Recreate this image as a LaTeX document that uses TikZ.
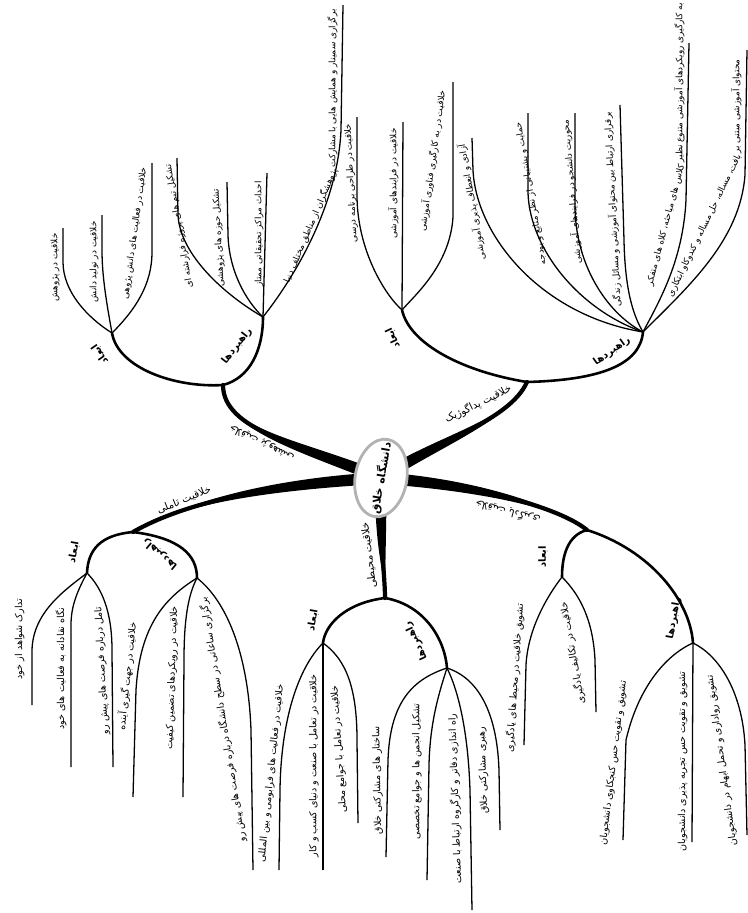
\documentclass[tikz,border=0pt]{standalone}
\usepackage{fontspec}
\usetikzlibrary{shapes.geometric,positioning,backgrounds,calc}
\newfontfamily\farsi[Script=Arabic]{DejaVu Sans}
\TeXXeTstate=1
\newcommand{\fatxt}[1]{{\farsi\beginR #1\endR}}

\begin{document}
\begin{tikzpicture}[
    x=0.03cm, y=-0.03cm,
    % --- STYLES ---
    hub/.style={
        ellipse, draw=gray!60, fill=white,
        line width=2.4pt,
        minimum width=2.35cm, minimum height=1.55cm,
        inner xsep=-12pt, inner ysep=0pt,
        font=\bfseries\fontsize{9.5}{10}\selectfont
    },
    trunk/.style={line width=3.6pt, line cap=round},
    limb/.style={line width=2.2pt, line cap=round},
    twig/.style={line width=1.1pt},
    leaf/.style={font=\fontsize{7.6}{8}\selectfont, inner sep=1pt, anchor=south east},
    lowleaf/.style={leaf, font=\fontsize{8.2}{9}\selectfont},
    sublabel/.style={font=\bfseries\fontsize{8.5}{9}\selectfont, inner sep=1pt},
    mainlabel/.style={font=\fontsize{8.8}{9}\selectfont, inner sep=1pt}
]
\useasboundingbox (0,0) rectangle (748,913);

% ===== 1. HUB & FORKS =====
\node[hub, rotate=80] (hub) at (381,478) {\fatxt{دانشگاه خلاق}};

\coordinate (resF) at (223,385);
\coordinate (resD) at (112,333);
\coordinate (resS) at (263,317);
\coordinate (pedF) at (527,382);
\coordinate (pedD) at (402,310);
\coordinate (pedS) at (643,332);
\coordinate (refF) at (133,532);
\coordinate (refD) at (87,573);
\coordinate (refS) at (197,578);
\coordinate (envF) at (385,598);
\coordinate (envD) at (323,643);
\coordinate (envS) at (447,668);
\coordinate (lrnF) at (587,530);
\coordinate (lrnD) at (562,577);
\coordinate (lrnS) at (693,643);

% leaf tips
\coordinate (resD1) at (63,228);
\coordinate (resD2) at (102,215);
\coordinate (resD3) at (152,163);
\coordinate (resS1) at (177,158);
\coordinate (resS2) at (227,182);
\coordinate (resS3) at (267,173);
\coordinate (resS4) at (343,5);
\coordinate (pedD1) at (357,117);
\coordinate (pedD2) at (403,122);
\coordinate (pedD3) at (453,82);
\coordinate (pedS1) at (472,138);
\coordinate (pedS2) at (528,113);
\coordinate (pedS3) at (575,113);
\coordinate (pedS4) at (620,105);
\coordinate (pedS5) at (689,43);
\coordinate (pedS6) at (747,50);
\coordinate (refD1) at (32,705);
\coordinate (refD2) at (71,767);
\coordinate (refD3) at (113,767);
\coordinate (refS1) at (133,797);
\coordinate (refS2) at (183,797);
\coordinate (refS3) at (253,870);
\coordinate (envD1) at (279,870);
\coordinate (envD2) at (323,870);
\coordinate (envD3) at (358,823);
\coordinate (envS1) at (386,857);
\coordinate (envS2) at (427,880);
\coordinate (envS3) at (472,910);
\coordinate (envS4) at (500,830);
\coordinate (lrnD1) at (524,745);
\coordinate (lrnD2) at (596,712);
\coordinate (lrnS1) at (623,840);
\coordinate (lrnS2) at (692,842);
\coordinate (lrnS3) at (747,835);

% ===== 2. MAIN BRANCHES =====
\begin{scope}[on background layer]
\draw[trunk] (hub.center) .. controls (300,445) and (223,430) .. (resF);
\draw[trunk] (hub.center) .. controls (440,440) and (510,420) .. (pedF);
\draw[trunk] (hub.center) .. controls (260,485) and (180,505) .. (refF);
\draw[trunk] (hub.center) .. controls (380,550) and (385,575) .. (envF);
\draw[trunk] (hub.center) .. controls (480,485) and (560,508) .. (lrnF);
% tapering, wide at the hub
\fill ($(hub.center)!5pt!90:(300,445)$) .. controls ($(300,445)!5pt!-90:(hub.center)$) and (223,430) .. (resF)
      .. controls (223,430) and ($(300,445)!5pt!90:(hub.center)$) .. ($(hub.center)!5pt!-90:(300,445)$) -- cycle;
\fill ($(hub.center)!5pt!90:(440,440)$) .. controls ($(440,440)!5pt!-90:(hub.center)$) and (510,420) .. (pedF)
      .. controls (510,420) and ($(440,440)!5pt!90:(hub.center)$) .. ($(hub.center)!5pt!-90:(440,440)$) -- cycle;
\fill ($(hub.center)!5pt!90:(260,485)$) .. controls ($(260,485)!5pt!-90:(hub.center)$) and (180,505) .. (refF)
      .. controls (180,505) and ($(260,485)!5pt!90:(hub.center)$) .. ($(hub.center)!5pt!-90:(260,485)$) -- cycle;
\fill ($(hub.center)!5pt!90:(380,550)$) .. controls ($(380,550)!5pt!-90:(hub.center)$) and (385,575) .. (envF)
      .. controls (385,575) and ($(380,550)!5pt!90:(hub.center)$) .. ($(hub.center)!5pt!-90:(380,550)$) -- cycle;
\fill ($(hub.center)!5pt!90:(480,485)$) .. controls ($(480,485)!5pt!-90:(hub.center)$) and (560,508) .. (lrnF)
      .. controls (560,508) and ($(480,485)!5pt!90:(hub.center)$) .. ($(hub.center)!5pt!-90:(480,485)$) -- cycle;
\end{scope}

\node[mainlabel, rotate=153] (lRes) at (262,443) {\fatxt{خلاقیت پژوهشی}};
\node[mainlabel, rotate=26] (lPed) at (478,404) {\fatxt{خلاقیت پداگوژیک}};
\node[mainlabel, rotate=22] (lRef) at (184,500) {\fatxt{خلاقیت تاملی}};
\node[mainlabel, rotate=97] (lEnv) at (369,555) {\fatxt{خلاقیت محیطی}};
\node[mainlabel, rotate=165] (lLrn) at (508,512) {\fatxt{خلاقیت یادگیری}};

% ===== 3. SUB BRANCHES =====
\draw[limb] (resF) .. controls (175,388) and (118,368) .. (resD);
\draw[limb] (resF) .. controls (250,378) and (263,350) .. (resS);
\draw[limb] (pedF) .. controls (465,372) and (410,345) .. (pedD);
\draw[limb] (pedF) .. controls (600,380) and (640,365) .. (pedS);
\draw[limb] (refF) .. controls (100,535) and (88,550) .. (refD);
\draw[limb] (refF) .. controls (180,538) and (197,555) .. (refS);
\draw[limb] (envF) .. controls (345,603) and (325,625) .. (envD);
\draw[limb] (envF) .. controls (425,605) and (445,640) .. (envS);
\draw[limb] (lrnF) .. controls (568,535) and (562,555) .. (lrnD);
\draw[limb] (lrnF) .. controls (650,550) and (690,600) .. (lrnS);

\node[sublabel, rotate=125] (lResD) at (100,354) {\fatxt{ابعاد}};
\node[sublabel, rotate=52] (lResS) at (237,346) {\fatxt{راهبردها}};
\node[sublabel, rotate=115] (lPedD) at (393,338) {\fatxt{ابعاد}};
\node[sublabel, rotate=35] (lPedS) at (612,351) {\fatxt{راهبردها}};
\node[sublabel, rotate=80] (lRefD) at (74,552) {\fatxt{ابعاد}};
\node[sublabel, rotate=140] (lRefS) at (160,554) {\fatxt{راهبردها}};
\node[sublabel, rotate=80] (lEnvD) at (313,620) {\fatxt{ابعاد}};
\node[sublabel, rotate=115] (lEnvS) at (416,641) {\fatxt{راهبردها}};
\node[sublabel, rotate=90] (lLrnD) at (543,557) {\fatxt{ابعاد}};
\node[sublabel, rotate=80] (lLrnS) at (674,618) {\fatxt{راهبردها}};

% ===== 4. LEAVES =====
% -- research --
\draw[twig] (resD) .. controls (88,318) and (63,292) .. (63,262) -- (resD1);
\draw[twig] (resD) .. controls (106,300) and (102,275) .. (102,250) -- (resD2);
\draw[twig] (resD) .. controls (135,310) and (152,285) .. (152,252) -- (resD3);
\draw[twig] (resS) .. controls (225,295) and (180,255) .. (178,215) -- (resS1);
\draw[twig] (resS) .. controls (245,300) and (229,270) .. (228,235) -- (resS2);
\draw[twig] (resS) -- (resS3);
\draw[twig] (resS) .. controls (300,270) and (338,200) .. (341,130) -- (resS4);

\node[leaf, rotate=90] (tResD1) at (61,232) {\fatxt{خلاقیت در پژوهش}};
\node[leaf, rotate=90] (tResD2) at (100,220) {\fatxt{خلاقیت در تولید دانش}};
\node[leaf, rotate=82] (tResD3) at (150,167) {\fatxt{خلاقیت در فعالیت های دانش پژوهی}};
\node[leaf, rotate=100] (tResS1) at (174,162) {\fatxt{تشکیل تیم های پروژه فرارشته ای}};
\node[leaf, rotate=93] (tResS2) at (222,187) {\fatxt{تشکیل حوزه های پژوهشی}};
\node[leaf, rotate=90] (tResS3) at (265,180) {\fatxt{احداث مراکز تحقیقاتی ممتاز}};
\node[leaf, rotate=90] (tResS4a) at (339,8) {\fatxt{برگزاری سمینار و همایش هایی با مشارکت}};
\node[leaf, rotate=67, yshift=-2pt] (tResS4b) at (tResS4a.south west) {\fatxt{پژوهشگران از مناطق مختلف دنیا}};

% -- pedagogical --
\draw[twig] (pedD) .. controls (385,295) and (357,250) .. (357,195) -- (pedD1);
\draw[twig] (pedD) -- (pedD2);
\draw[twig] (pedD) .. controls (415,295) and (450,265) .. (453,217) -- (pedD3);
\draw[twig] (pedS) .. controls (540,315) and (476,235) .. (473,170) -- (pedS1);
\draw[twig] (pedS) .. controls (580,310) and (530,250) .. (528,193) -- (pedS2);
\draw[twig] (pedS) .. controls (610,315) and (577,270) .. (575,210) -- (pedS3);
\draw[twig] (pedS) .. controls (633,315) and (625,290) .. (624,240) -- (pedS4);
\draw[twig] (pedS) .. controls (660,300) and (683,260) .. (686,200) -- (pedS5);
\draw[twig] (pedS) .. controls (690,285) and (740,240) .. (745,175) -- (pedS6);

\node[leaf, rotate=93] (tPedD1) at (354,122) {\fatxt{خلاقیت در طراحی برنامه درسی}};
\node[leaf, rotate=90] (tPedD2) at (400,127) {\fatxt{خلاقیت در فرایندهای آموزشی}};
\node[leaf, rotate=82] (tPedD3) at (449,90) {\fatxt{خلاقیت در به کارگیری فناوری آموزشی}};
\node[leaf, rotate=100] (tPedS1) at (468,142) {\fatxt{آزادی و انعطاف پذیری آموزشی}};
\node[leaf, rotate=100] (tPedS2) at (524,120) {\fatxt{حمایت و پشتیبانی از نظر منابع و بودجه}};
\node[leaf, rotate=95] (tPedS3) at (572,118) {\fatxt{محوریت دانشجو در فرایندهای آموزشی}};
\node[leaf, rotate=93] (tPedS4) at (614,110) {\fatxt{برقراری ارتباط بین محتوای آموزشی و مسائل زندگی}};
\node[leaf, rotate=90] (tPedS5a) at (686,2) {\fatxt{به کارگیری رویکردهای آموزشی متنوع نظیر}};
\node[leaf, rotate=75, yshift=-2pt] (tPedS5b) at (tPedS5a.south west) {\fatxt{کلاس های مباحثه، کلاه های متفکر}};
\node[leaf, rotate=90] (tPedS6a) at (743,58) {\fatxt{محتوای آموزشی مبتنی بر}};
\node[leaf, rotate=64, yshift=-2pt] (tPedS6b) at (tPedS6a.south west) {\fatxt{بافت، مساله، حل مساله و کندوکاو ابتکاری}};

% -- reflective --
\draw[twig] (refD) .. controls (65,590) and (33,612) .. (32,650) -- (refD1);
\draw[twig] (refD) .. controls (78,590) and (71,605) .. (71,625) -- (refD2);
\draw[twig] (refD) .. controls (102,588) and (112,612) .. (112,650) -- (refD3);
\draw[twig] (refS) .. controls (165,598) and (140,625) .. (136,690) -- (refS1);
\draw[twig] (refS) .. controls (188,595) and (184,620) .. (184,660) -- (refS2);
\draw[twig] (refS) .. controls (225,600) and (248,650) .. (251,730) -- (refS3);

\node[lowleaf, rotate=90] (tRefD1) at (26,597) {\fatxt{تدارک شواهد از خود}};
\node[lowleaf, rotate=90] (tRefD2) at (68,606) {\fatxt{نگاه نقادانه به فعالیت های خود}};
\node[lowleaf, rotate=93] (tRefD3) at (105,605) {\fatxt{تامل درباره فرصت های پیش رو}};
\node[lowleaf, rotate=84] (tRefS1) at (140,622) {\fatxt{خلاقیت در جهت گیری آینده}};
\node[lowleaf, rotate=88] (tRefS2) at (181,605) {\fatxt{خلاقیت در رویکردهای تضمین کیفیت}};
\node[lowleaf, rotate=99] (tRefS3) at (210,595) {\fatxt{برگزاری ساعاتی در سطح دانشگاه درباره فرصت های پیش رو}};

% -- environmental --
\draw[twig] (envD) .. controls (298,668) and (281,720) .. (280,790) -- (envD1);
\draw[twig] (envD) -- (envD2);
\draw[twig] (envD) .. controls (347,660) and (357,690) .. (357,740) -- (envD3);
\draw[twig] (envS) .. controls (410,680) and (390,705) .. (388,760) -- (envS1);
\draw[twig] (envS) .. controls (440,690) and (430,720) .. (429,765) -- (envS2);
\draw[twig] (envS) .. controls (458,690) and (468,730) .. (470,790) -- (envS3);
\draw[twig] (envS) .. controls (478,678) and (497,712) .. (499,770) -- (envS4);

\node[lowleaf, rotate=84] (tEnvD1) at (287,684) {\fatxt{خلاقیت در فعالیت های فرابومی و بین المللی}};
\node[lowleaf, rotate=90] (tEnvD2) at (320,673) {\fatxt{خلاقیت در تعامل با صنعت و دنیای کسب و کار}};
\node[lowleaf, rotate=94] (tEnvD3) at (341,684) {\fatxt{خلاقیت در تعامل با جوامع محلی}};
\node[lowleaf, rotate=91] (tEnvS1) at (383,725) {\fatxt{ساختار های مشارکتی خلاق}};
\node[lowleaf, rotate=90] (tEnvS2) at (423,702) {\fatxt{تشکیل انجمن ها و جوامع تخصصی}};
\node[lowleaf, rotate=92] (tEnvS3) at (459,712) {\fatxt{راه اندازی دفاتر و کارگروه ارتباط با صنعت}};
\node[lowleaf, rotate=92] (tEnvS4) at (488,725) {\fatxt{رهبری مشارکتی خلاق}};

% -- learning --
\draw[twig] (lrnD) .. controls (548,595) and (528,628) .. (526,665) -- (lrnD1);
\draw[twig] (lrnD) .. controls (580,595) and (593,620) .. (595,660) -- (lrnD2);
\draw[twig] (lrnS) .. controls (672,652) and (640,680) .. (626,740) -- (lrnS1);
\draw[twig] (lrnS) -- (lrnS2);
\draw[twig] (lrnS) .. controls (718,655) and (742,690) .. (745,745) -- (lrnS3);

\node[lowleaf, rotate=86] (tLrnD1) at (527,603) {\fatxt{تشویق خلاقیت در محیط های یادگیری}};
\node[lowleaf, rotate=100] (tLrnD2) at (570,600) {\fatxt{خلاقیت در تکالیف یادگیری}};
\node[lowleaf, rotate=83] (tLrnS1) at (630,680) {\fatxt{تشویق و تقویت حس کنجکاوی دانشجویان}};
\node[lowleaf, rotate=90] (tLrnS2) at (689,670) {\fatxt{تشویق و تقویت حس تجربه پذیری دانشجویان}};
\node[lowleaf, rotate=98] (tLrnS3) at (716,673) {\fatxt{تشویق رواداری و تحمل ابهام در دانشجویان}};

\end{tikzpicture}
\end{document}
